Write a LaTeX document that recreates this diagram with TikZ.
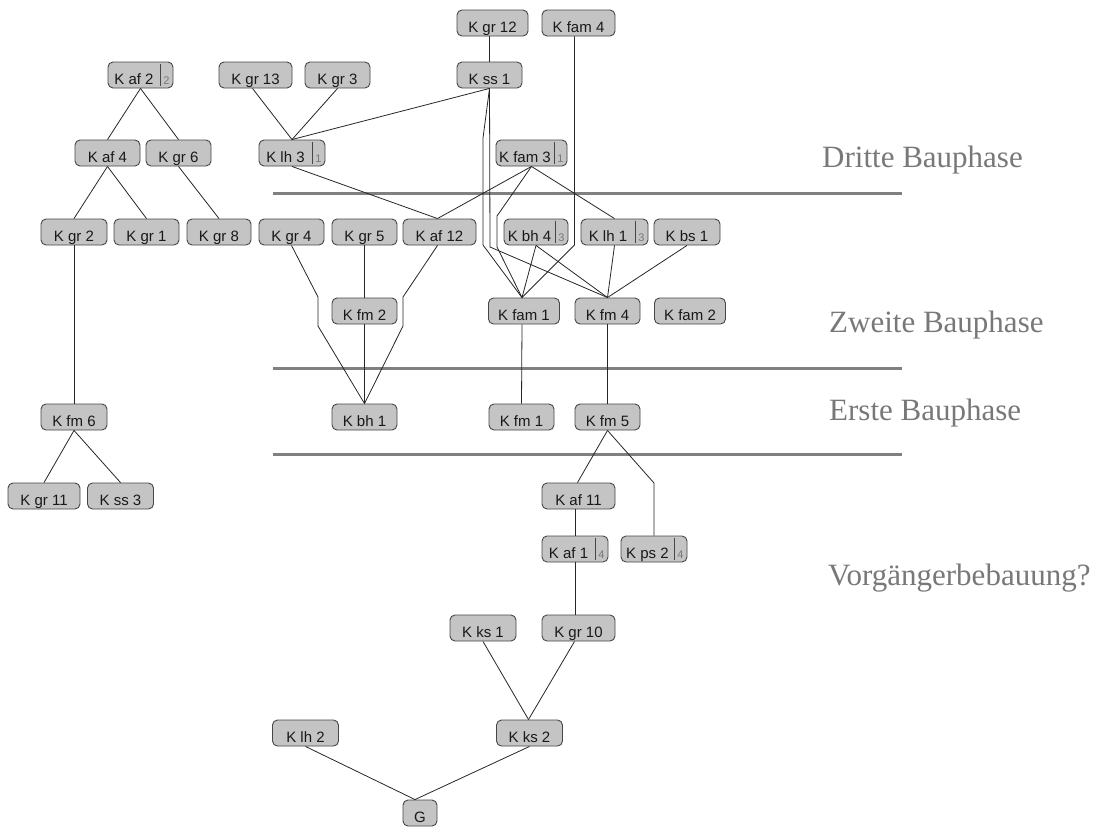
\documentclass[tikz,border=0pt]{standalone}
\usepackage{fontspec}
\setmainfont{Liberation Sans}
\newfontfamily\phasefont{Liberation Serif}
\usetikzlibrary{calc}
\definecolor{boxfill}{RGB}{196,196,196}
\definecolor{boxline}{RGB}{70,70,70}
\definecolor{phasegray}{RGB}{128,128,128}
\definecolor{labgray}{RGB}{120,120,120}
\newcommand\nlab[3]{\makebox[#1pt]{#2}\makebox[13pt]{\fontsize{11}{11}\selectfont\textcolor{labgray}{#3}}}
\tikzset{
  box/.style={draw=boxline, fill=boxfill, rounded corners=5pt, line width=0.9pt,
    minimum height=26pt, minimum width=#1, inner sep=0pt, text height=22pt, text depth=4pt,
    font=\fontsize{15}{15}\selectfont, text=black!90},
  box/.default=66pt,
  numbered/.style={path picture={\draw[boxline, line width=0.8pt]
    ([xshift=-13pt,yshift=-2pt]path picture bounding box.north east) --
    ([xshift=-13pt,yshift=2pt]path picture bounding box.south east);}},
  edge/.style={draw=black!85, line width=0.8pt},
  phaseline/.style={draw=phasegray, line width=3pt},
  phase/.style={font=\phasefont\fontsize{31}{31}\selectfont, text=labgray, inner sep=0pt, anchor=base west},
}
\begin{document}
\begin{tikzpicture}[x=1pt,y=-1pt]
\useasboundingbox (0,0) rectangle (1094,827);

% phase separators
\draw[phaseline] (273,193) -- (902,193);
\draw[phaseline] (273,368) -- (902,368);
\draw[phaseline] (273,454) -- (902,454);

% phase labels
\node[phase] (ph3) at (822,167) {Dritte Bauphase};
\node[phase] (ph2) at (829,332) {Zweite Bauphase};
\node[phase] (ph1) at (829,420) {Erste Bauphase};
\node[phase] (ph0) at (828,585) {Vorgängerbebauung?};

% nodes
\node[box=71pt] (kgr12) at (492.5,23) {K gr 12};
\node[box=73pt] (kfam4) at (578.5,23) {K fam 4};

\node[box=65pt, numbered] (kaf2) at (140.5,75) {\nlab{52}{K af 2}{2}};
\node[box=73pt] (kgr13) at (255.5,75) {K gr 13};
\node[box=65pt] (kgr3) at (337.5,75) {K gr 3};
\node[box=65pt] (kss1) at (489.5,75) {K ss 1};

\node[box=65pt] (kaf4) at (107.5,153) {K af 4};
\node[box=65pt] (kgr6) at (178.5,153) {K gr 6};
\node[box=66pt, numbered] (klh3) at (292,153) {\nlab{53}{K lh 3}{1}};
\node[box=71pt, numbered] (kfam3) at (531.5,153) {\nlab{58}{K fam 3}{1}};

\node[box=66pt] (kgr2) at (74,232) {K gr 2};
\node[box=65pt] (kgr1) at (146.5,232) {K gr 1};
\node[box=64pt] (kgr8) at (219,232) {K gr 8};
\node[box=65pt] (kgr4) at (291.5,232) {K gr 4};
\node[box=65pt] (kgr5) at (364.5,232) {K gr 5};
\node[box=73pt] (kaf12) at (439.5,232) {K af 12};
\node[box=64pt, numbered] (kbh4) at (536,232) {\nlab{51}{K bh 4}{3}};
\node[box=67pt, numbered] (klh1) at (614.5,232) {\nlab{54}{K lh 1}{3}};
\node[box=66pt] (kbs1) at (687,232) {K bs 1};

\node[box=65pt] (kfm2) at (364.5,311) {K fm 2};
\node[box=71pt] (kfam1) at (524,311) {K fam 1};
\node[box=65pt] (kfm4) at (607.5,311) {K fm 4};
\node[box=71pt] (kfam2) at (690,311) {K fam 2};

\node[box=66pt] (kfm6) at (74,417) {K fm 6};
\node[box=65pt] (kbh1) at (364.5,417) {K bh 1};
\node[box=65pt] (kfm1) at (521.5,417) {K fm 1};
\node[box=65pt] (kfm5) at (607.5,417) {K fm 5};

\node[box=72pt] (kgr11) at (44,496) {K gr 11};
\node[box=66pt] (kss3) at (120.5,496) {K ss 3};
\node[box=73pt] (kaf11) at (578.5,496) {K af 11};

\node[box=66pt, numbered] (kaf1) at (575,549) {\nlab{53}{K af 1}{4}};
\node[box=66pt, numbered] (kps2) at (654,549) {\nlab{53}{K ps 2}{4}};

\node[box=66pt] (kks1) at (483,628) {K ks 1};
\node[box=73pt] (kgr10) at (578.5,628) {K gr 10};

\node[box=66pt] (klh2) at (305.5,733) {K lh 2};
\node[box=66pt] (kks2) at (529.5,733) {K ks 2};

\node[box=34pt] (g) at (420,813) {G};

% edges
\draw[edge] (kaf2.south) -- (kaf4.north);
\draw[edge] (kaf2.south) -- (kgr6.north);
\draw[edge] (kaf4.south) -- (kgr2.north);
\draw[edge] (kaf4.south) -- (kgr1.north);
\draw[edge] (kgr6.south) -- (kgr8.north);
\draw[edge] (kgr2.south) -- (kfm6.north);
\draw[edge] (kfm6.south) -- (kgr11.north);
\draw[edge] (kfm6.south) -- (kss3.north);

\draw[edge] ($(kgr13.south)+(-3,0)$) -- (klh3.north);
\draw[edge] (kgr3.south) -- (klh3.north);
\draw[edge] (kss1.south) -- (klh3.north);
\draw[edge] (klh3.south) -- ($(kaf12.north)+(-2,0)$);
\draw[edge] (kfam3.south) -- ($(kaf12.north)+(-2,0)$);

\draw[edge] (kss1.north) -- (kss1.north |- kgr12.south);
\draw[edge] (kss1.south) -- (483,138) -- (483,245) -- ($(kfam1.north)+(-2,0)$);
\draw[edge] (kss1.south) -- (490,247) -- (kfm4.north);
\draw[edge] (kfam3.south) -- (497,216) -- (497,247) -- ($(kfam1.north)+(-2,0)$);
\draw[edge] ($(kfam4.south)+(-4,0)$) -- (574.5,245) -- ($(kfam1.north)+(-2,0)$);
\draw[edge] (kfam3.south) -- (klh1.north);
\draw[edge] (kbh4.south) -- ($(kfam1.north)+(-2,0)$);
\draw[edge] (kbh4.south) -- (kfm4.north);
\draw[edge] (klh1.south) -- (kfm4.north);
\draw[edge] (kbs1.south) -- (kfm4.north);

\draw[edge] (kgr4.south) -- (318,297) -- (318,326) -- (kbh1.north);
\draw[edge] (kgr5.south) -- (kfm2.north);
\draw[edge] (kfm2.south) -- (kbh1.north);
\draw[edge] ($(kaf12.south)+(-2,0)$) -- (403,297) -- (403,326) -- (kbh1.north);

\draw[edge] ($(kfam1.south)+(-2,0)$) -- (kfm1.north);
\draw[edge] (kfm4.south) -- (kfm5.north);
\draw[edge] (kfm5.south) -- ($(kaf11.north)+(-1,0)$);
\draw[edge] (kfm5.south) -- (654,483) -- (kps2.north);
\draw[edge] (kaf1.north) -- (kaf1.north |- kaf11.south);
\draw[edge] (kaf1.south) -- (kaf1.south |- kgr10.north);
\draw[edge] (kks1.south) -- ($(kks2.north)+(-1,0)$);
\draw[edge] ($(kgr10.south)+(-4,0)$) -- ($(kks2.north)+(-1,0)$);
\draw[edge] (klh2.south) -- ($(g.north)+(-5,0)$);
\draw[edge] (kks2.south) -- ($(g.north)+(-5,0)$);
\end{tikzpicture}
\end{document}
